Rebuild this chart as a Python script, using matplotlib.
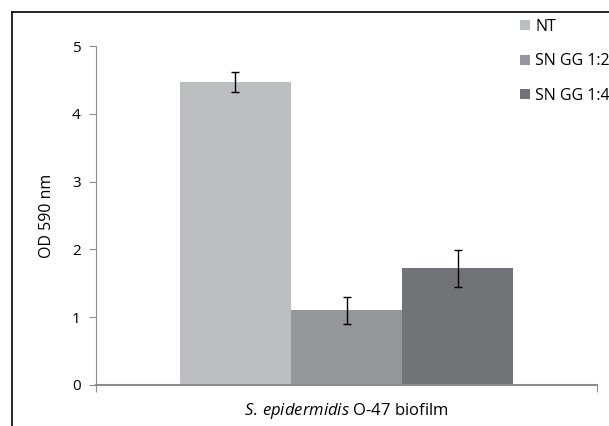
import matplotlib.pyplot as plt
from matplotlib.patches import Patch
from matplotlib.lines import Line2D

plt.rcParams['font.family'] = ['Open Sans', 'DejaVu Sans']
plt.rcParams['mathtext.fontset'] = 'custom'
plt.rcParams['mathtext.it'] = 'Open Sans:italic'
plt.rcParams['mathtext.rm'] = 'Open Sans'

groups = ['NT', 'SN GG 1:2', 'SN GG 1:4']
values = [4.47, 1.10, 1.72]
errors = [0.15, 0.20, 0.27]
colors = ['#bdbec2', '#959699', '#727376']
offsets = [-0.222, 0.0, 0.222]

fig = plt.figure(figsize=(6.09, 4.26), dpi=100)
ax = fig.add_axes([96/609, 1 - 385/426, (597-96)/609, (385-46)/426])

for off, v, e, c in zip(offsets, values, errors, colors):
    ax.bar(off, v, width=0.222, color=c, zorder=2)
    ax.errorbar(off, v, yerr=e, fmt='none', ecolor='black', elinewidth=1,
                capsize=3, capthick=1, zorder=3)

ax.set_xlim(-0.5, 0.5)
ax.set_ylim(0, 5)
ax.set_yticks(range(6))
ax.set_xticks([-0.5, 0.5])
ax.set_xticklabels(['', ''])
for s in ['top', 'right']:
    ax.spines[s].set_visible(False)
for s in ['left', 'bottom']:
    ax.spines[s].set_color('#8c8c8c')
ax.spines['left'].set_linewidth(0.8)
ax.spines['bottom'].set_linewidth(1.5)
ax.tick_params(axis='both', colors='#8c8c8c', labelcolor='black', length=5, labelsize=11)
ax.tick_params(axis='y', pad=6)
ax.set_ylabel('OD 590 nm', fontsize=11.5, labelpad=12)
ax.set_xlabel(r'$\it{S.\,epidermidis}$ O-47 biofilm', fontsize=12, labelpad=3)

handles = [Patch(facecolor=c, edgecolor='none') for c in colors]
fig.legend(handles, groups, loc='upper left', bbox_to_anchor=(520/609, 1 - 19/426),
           frameon=False, fontsize=11.5, handlelength=0.6, handleheight=0.6,
           handletextpad=0.35, labelspacing=1.15, borderpad=0, borderaxespad=0)

# outer frame
fig.add_artist(Line2D([12/609, 1.0], [1 - 12/426, 1 - 12/426], transform=fig.transFigure,
                      color='black', lw=1.2))
fig.add_artist(Line2D([12/609, 12/609], [0, 1 - 12/426], transform=fig.transFigure,
                      color='black', lw=1.2))

fig.savefig('out.png', dpi=100)
